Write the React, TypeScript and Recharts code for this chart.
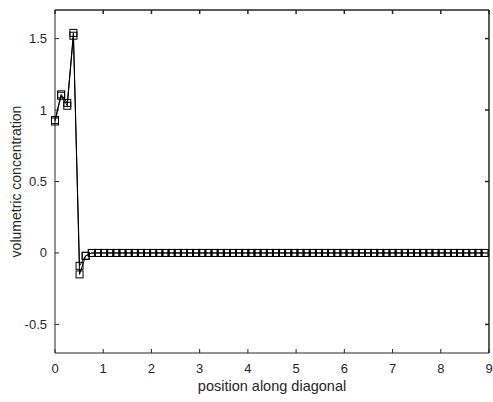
import { LineChart, Line, XAxis, YAxis, Label, ReferenceLine } from "recharts";

// position along the diagonal (step ~0.1273)
const positions = [
  0, 0.127, 0.255, 0.382, 0.509, 0.636, 0.764, 0.891, 1.018, 1.146,
  1.273, 1.4, 1.527, 1.655, 1.782, 1.909, 2.036, 2.164, 2.291, 2.418,
  2.546, 2.673, 2.8, 2.927, 3.055, 3.182, 3.309, 3.437, 3.564, 3.691,
  3.818, 3.946, 4.073, 4.2, 4.327, 4.455, 4.582, 4.709, 4.837, 4.964,
  5.091, 5.218, 5.346, 5.473, 5.6, 5.728, 5.855, 5.982, 6.109, 6.237,
  6.364, 6.491, 6.619, 6.746, 6.873, 7.0, 7.128, 7.255, 7.382, 7.51,
  7.637, 7.764, 7.891, 8.019, 8.146, 8.273, 8.401, 8.528, 8.655, 8.782,
  8.91,
];

const concA = [
  0.93, 1.11, 1.05, 1.54, -0.09, -0.02, 0, 0, 0, 0,
  0, 0, 0, 0, 0, 0, 0, 0, 0, 0,
  0, 0, 0, 0, 0, 0, 0, 0, 0, 0,
  0, 0, 0, 0, 0, 0, 0, 0, 0, 0,
  0, 0, 0, 0, 0, 0, 0, 0, 0, 0,
  0, 0, 0, 0, 0, 0, 0, 0, 0, 0,
  0, 0, 0, 0, 0, 0, 0, 0, 0, 0,
  0,
];

const concB = [
  0.92, 1.1, 1.03, 1.52, -0.15, -0.02, 0, 0, 0, 0,
  0, 0, 0, 0, 0, 0, 0, 0, 0, 0,
  0, 0, 0, 0, 0, 0, 0, 0, 0, 0,
  0, 0, 0, 0, 0, 0, 0, 0, 0, 0,
  0, 0, 0, 0, 0, 0, 0, 0, 0, 0,
  0, 0, 0, 0, 0, 0, 0, 0, 0, 0,
  0, 0, 0, 0, 0, 0, 0, 0, 0, 0,
  0,
];

const xTicks = [0, 1, 2, 3, 4, 5, 6, 7, 8, 9];
const yTicks = [-0.5, 0, 0.5, 1, 1.5];
const X_DOMAIN = [0, 9];
const Y_DOMAIN = [-0.7, 1.7];

const data = positions.map((p, i) => ({ pos: p, a: concA[i], b: concB[i] }));

const W = 493;
const H = 402;
const MARGIN = { top: 10, right: 4, bottom: 0, left: 0 };
const PLOT_TOP = MARGIN.top;
const PLOT_RIGHT = W - MARGIN.right;

const INK = "#262626";
const FONT = "'Liberation Sans', Arial, sans-serif";
const TICK_LEN = 4;
const EDGE_W = 1.5;

const SquareDot = (props: any) => {
  const { cx, cy, index } = props;
  if (cx == null || cy == null) return null;
  return (
    <rect key={index} x={cx - 3.5} y={cy - 3.5} width={7} height={7} fill="none" stroke="#000" strokeWidth={1} />
  );
};

// MATLAB style: ticks point inwards, mirrored on the top / right edges
const BottomTick = ({ x, y, payload }: any) => (
  <g>
    <line x1={x} y1={y} x2={x} y2={y - TICK_LEN} stroke={INK} strokeWidth={1} />
    <line x1={x} y1={PLOT_TOP} x2={x} y2={PLOT_TOP + TICK_LEN} stroke={INK} strokeWidth={EDGE_W} />
    <text x={x} y={y + 20} textAnchor="middle" fill={INK} fontSize={13} fontFamily={FONT}>
      {payload.value}
    </text>
  </g>
);

const LeftTick = ({ x, y, payload }: any) => (
  <g>
    <line x1={x} y1={y} x2={x + TICK_LEN} y2={y} stroke={INK} strokeWidth={1} />
    <line x1={PLOT_RIGHT} y1={y} x2={PLOT_RIGHT - TICK_LEN} y2={y} stroke={INK} strokeWidth={EDGE_W} />
    <text x={x - 8} y={y + 4.5} textAnchor="end" fill={INK} fontSize={13} fontFamily={FONT}>
      {String(payload.value)}
    </text>
  </g>
);

export default function App() {
  return (
    <div style={{ position: "absolute", left: 0, top: 0, background: "#fff" }}>
      <LineChart width={W} height={H} data={data} margin={MARGIN}>
        <XAxis
          dataKey="pos"
          type="number"
          domain={X_DOMAIN}
          ticks={xTicks}
          interval={0}
          height={49}
          tickSize={0}
          tickMargin={0}
          tickLine={false}
          axisLine={{ stroke: INK, strokeWidth: 1 }}
          tick={<BottomTick />}
        >
          <Label
            content={({ viewBox }: any) => (
              <text
                x={viewBox.x + viewBox.width / 2}
                y={viewBox.y + 38}
                textAnchor="middle"
                fill={INK}
                fontSize={14.5}
                fontFamily={FONT}
              >
                position along diagonal
              </text>
            )}
          />
        </XAxis>
        <YAxis
          type="number"
          domain={Y_DOMAIN}
          ticks={yTicks}
          interval={0}
          width={55}
          tickSize={0}
          tickMargin={0}
          tickLine={false}
          axisLine={{ stroke: INK, strokeWidth: 1 }}
          tick={<LeftTick />}
        >
          <Label
            content={({ viewBox }: any) => {
              const cx = viewBox.x + 16;
              const cy = viewBox.y + viewBox.height / 2;
              return (
                <text
                  x={cx}
                  y={cy}
                  transform={`rotate(-90 ${cx} ${cy})`}
                  textAnchor="middle"
                  dominantBaseline="central"
                  fill={INK}
                  fontSize={14}
                  fontFamily={FONT}
                >
                  volumetric concentration
                </text>
              );
            }}
          />
        </YAxis>
        {/* box edges */}
        <ReferenceLine y={Y_DOMAIN[1]} stroke={INK} strokeWidth={EDGE_W} ifOverflow="visible" />
        <ReferenceLine x={X_DOMAIN[1]} stroke={INK} strokeWidth={EDGE_W} ifOverflow="visible" />
        <Line
          dataKey="a"
          type="linear"
          stroke="#000"
          strokeWidth={1}
          dot={<SquareDot />}
          activeDot={false}
          isAnimationActive={false}
        />
        <Line
          dataKey="b"
          type="linear"
          stroke="#000"
          strokeWidth={1}
          dot={<SquareDot />}
          activeDot={false}
          isAnimationActive={false}
        />
      </LineChart>
    </div>
  );
}
